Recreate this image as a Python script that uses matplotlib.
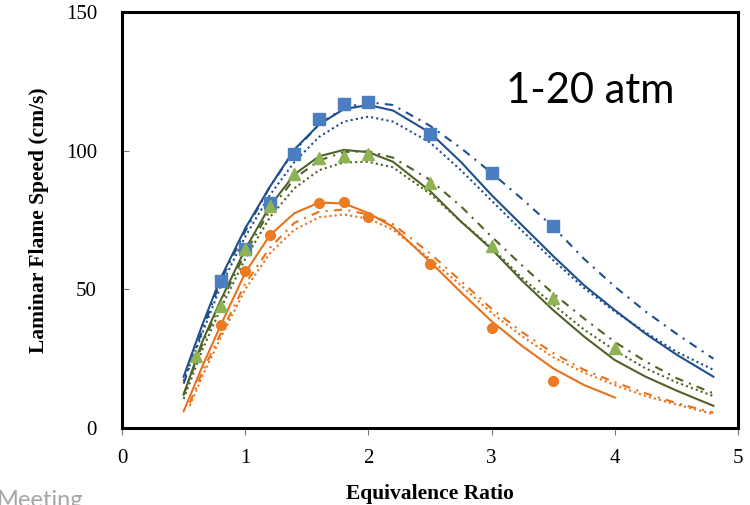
import matplotlib
matplotlib.use("Agg")
import matplotlib.pyplot as plt

# Experimental data (markers)
phi_blue = [0.8, 1.0, 1.2, 1.4, 1.6, 1.8, 2.0, 2.5, 3.0, 3.5]
S_blue = [53, 64.5, 81, 99, 111.5, 117, 117.5, 106, 92, 73]
phi_green = [0.6, 0.8, 1.0, 1.2, 1.4, 1.6, 1.8, 2.0, 2.5, 3.0, 3.5, 4.0]
S_green = [26, 44, 64.5, 80, 91.5, 97.5, 98, 99, 88.5, 65.5, 47, 29]
phi_orange = [0.8, 1.0, 1.2, 1.6, 1.8, 2.0, 2.5, 3.0, 3.5]
S_orange = [37, 56.5, 69.5, 81, 81.5, 76, 59, 36, 17]

# Model curves
phi_line = [0.5, 0.65, 0.8, 1.0, 1.2, 1.4, 1.6, 1.8, 2.0, 2.2, 2.5, 2.75,
            3.0, 3.25, 3.5, 3.75, 4.0, 4.25, 4.5, 4.8]
blue_solid = [18.5, 37, 54, 72, 87, 100.5, 109.5, 115, 116.5, 114.5, 106.5, 96,
              84, 73, 62, 51.5, 42.5, 34, 26.5, 18.5]
blue_dot = [17, 34, 51, 69, 84, 96, 105, 110.5, 112.3, 110.5, 103, 93,
            82, 71, 60.5, 50.5, 42, 34.5, 27.5, 21]
blue_dashdot = [16, 35, 53, 71, 87, 100, 109.5, 115.5, 117.5, 116.5, 109, 101,
                92, 82.5, 72.5, 61, 51, 42, 34, 25]
green_solid = [12, 31, 46, 64.5, 80, 91.5, 98, 100.3, 99.5, 96, 85.5, 74.5,
               64.5, 53, 42.5, 33, 24.5, 18.5, 13.5, 8]
green_dot = [10.5, 28, 43, 61, 76, 86.5, 93, 95.8, 96, 94, 84.5, 74.5,
             65, 54, 44.5, 35.5, 28, 21.5, 16.5, 11.5]
green_dashdot = [12, 30, 45, 63, 78.5, 90, 96.5, 99.5, 99.8, 97.5, 89.5, 80,
                 69, 58.5, 48.5, 39.5, 31, 24, 18, 12.5]
phi_orange_solid = phi_line[:17]
orange_solid = [6, 22, 37, 56, 69.5, 77.5, 81.3, 81, 77.5, 72.5, 60, 49,
                38.5, 29.5, 21.5, 15.5, 11]
phi_orange_model = [0.55, 0.65, 0.8, 1.0, 1.2, 1.4, 1.6, 1.8, 2.0, 2.2, 2.5, 2.75,
                    3.0, 3.25, 3.5, 3.75, 4.0, 4.25, 4.5, 4.8]
orange_dot = [8, 18.5, 32.5, 50, 63, 71.5, 76, 77, 75.5, 71.5, 61, 51.5,
              41.5, 33, 25.5, 20, 15.5, 11.5, 8.5, 5]
orange_dashdot = [9, 20, 34, 52, 65, 74, 78, 78.8, 77, 73.5, 63, 53,
                  43, 34.5, 27, 21, 16.5, 12.5, 9, 5.5]

# Colours
c_blue_line, c_blue_mk = '#1F4E8C', '#4A7EC1'
c_green_line, c_green_mk = '#4F6228', '#8DB352'
c_orange_line, c_orange_mk = '#E8711A', '#EE7B22'

serif = 'Liberation Serif'

fig = plt.figure(figsize=(7.5, 5.05), dpi=100)
ax = fig.add_axes([0.1627, 0.1525, 0.8213, 0.8235])

dashdot = (0, (4, 3, 1, 3))
dotted = (0, (1, 1.5))
lw = 1.5

# blue set
ax.plot(phi_line, blue_solid, color=c_blue_line, lw=lw)
ax.plot(phi_line, blue_dot, color=c_blue_line, lw=lw, linestyle=dotted)
ax.plot(phi_line, blue_dashdot, color=c_blue_line, lw=lw, linestyle=dashdot)
# green set
ax.plot(phi_line, green_solid, color=c_green_line, lw=lw)
ax.plot(phi_line, green_dot, color=c_green_line, lw=lw, linestyle=dotted)
ax.plot(phi_line, green_dashdot, color=c_green_line, lw=lw, linestyle=dashdot)
# orange set
ax.plot(phi_orange_solid, orange_solid, color=c_orange_line, lw=lw)
ax.plot(phi_orange_model, orange_dot, color=c_orange_line, lw=lw, linestyle=dotted)
ax.plot(phi_orange_model, orange_dashdot, color=c_orange_line, lw=lw, linestyle=dashdot)

# markers on top
ax.plot(phi_blue, S_blue, 's', color=c_blue_mk, ms=8, zorder=5)
ax.plot(phi_green, S_green, '^', color=c_green_mk, ms=8, zorder=5)
ax.plot(phi_orange, S_orange, 'o', color=c_orange_mk, ms=7, zorder=5)

ax.set_xlim(0, 5)
ax.set_ylim(0, 150)
ax.set_xticks([0, 1, 2, 3, 4, 5])
ax.set_yticks([0, 50, 100, 150])

for s in ax.spines.values():
    s.set_linewidth(2.2)
ax.tick_params(axis='x', direction='out', length=5, width=0.8, pad=10, color='#777777')
ax.tick_params(axis='y', direction='in', length=5, width=0.8, pad=18, color='#777777')
for lab in ax.get_xticklabels() + ax.get_yticklabels():
    lab.set_fontfamily(serif)
    lab.set_fontsize(15)

ax.set_xlabel('Equivalence Ratio', fontfamily=serif, fontweight='bold',
              fontsize=15.5, labelpad=12)
ax.set_ylabel('Laminar Flame Speed (cm/s)', fontfamily=serif, fontweight='bold',
              fontsize=15.5, labelpad=12)

ax.text(0.623, 0.781, '1-20 atm', transform=ax.transAxes, fontfamily='Lato',
        fontsize=30, va='baseline', ha='left')

# partially visible slide footer, cut by the bottom edge as in the source
fig.text(-0.004, -0.004, 'Meeting', fontfamily='Lato', fontsize=17,
         color='#A6A6A6', va='baseline', ha='left')

fig.savefig('out.png', dpi=100)
